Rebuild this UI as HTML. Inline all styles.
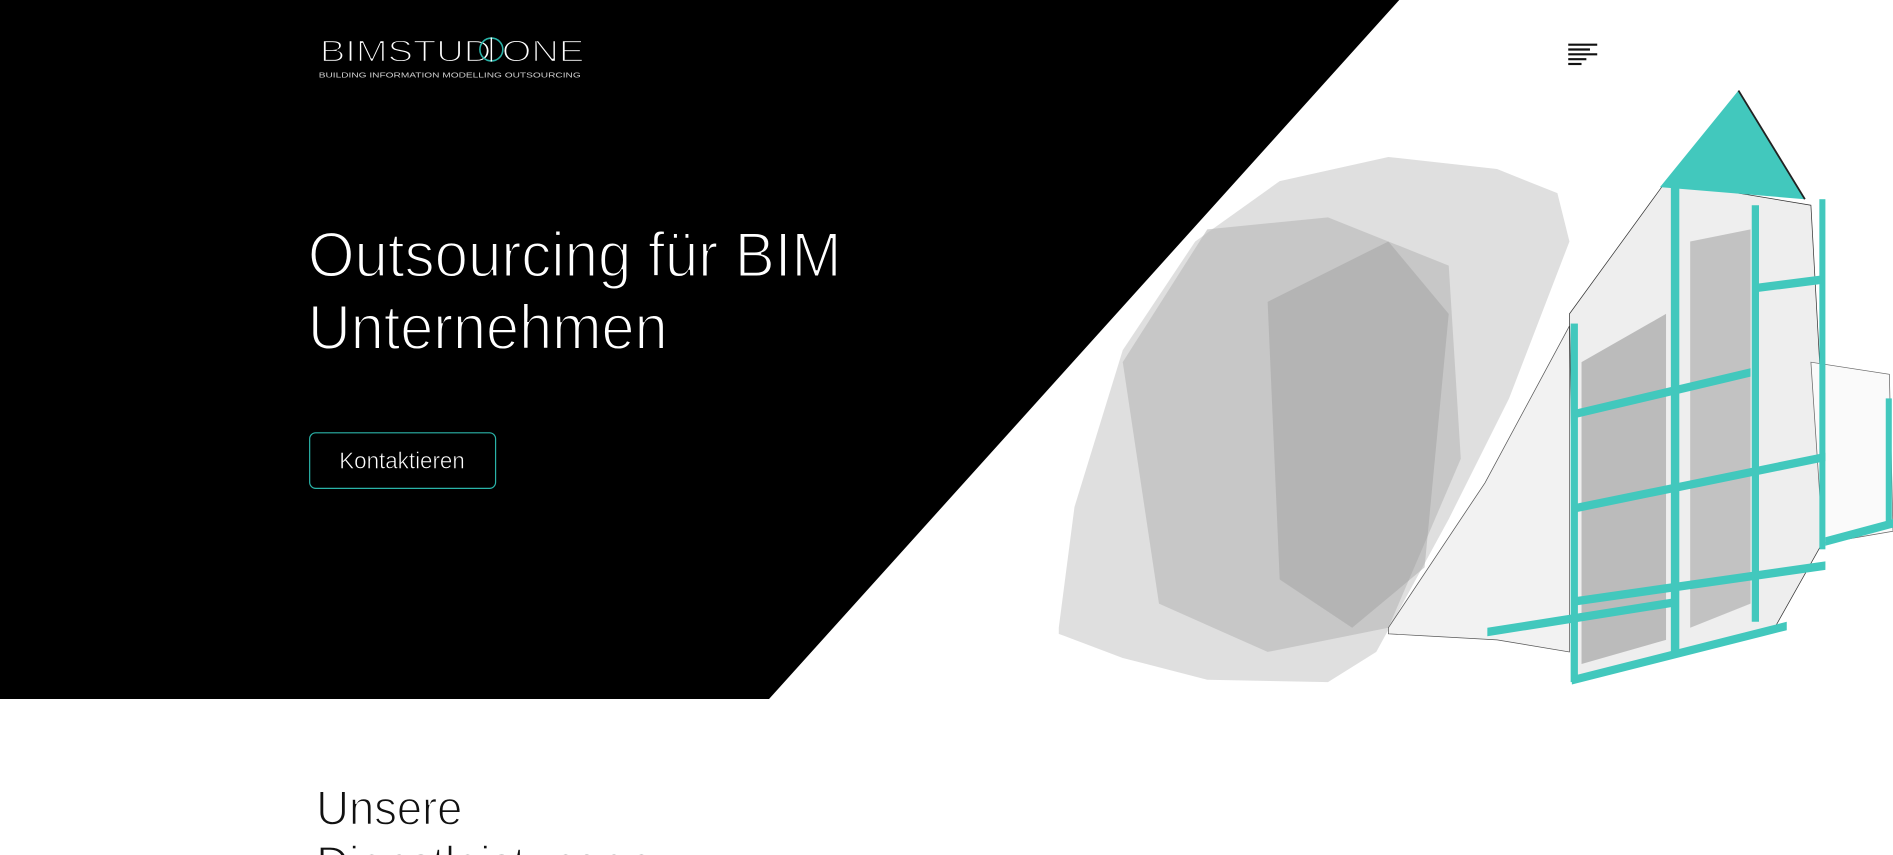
<!DOCTYPE html>
<html><head><meta charset="utf-8"><style>
html,body{margin:0;padding:0;background:#fff;overflow:hidden}
svg{display:block}
</style></head><body>
<svg width="1893" height="855" viewBox="0 0 1568 708.2" xmlns="http://www.w3.org/2000/svg" font-family="'Liberation Sans', sans-serif">
<polygon points="0,0 1159,0 637,579 0,579" fill="#000"/>
<g>
<text x="265" y="51" fill="#fff" stroke="#000" stroke-width="1.2" font-size="25" textLength="219" lengthAdjust="spacingAndGlyphs">BIMSTUD  ONE</text>
<circle cx="407" cy="41" r="9.5" fill="none" stroke="#2ab3a8" stroke-width="1.3"/>
<line x1="407" y1="31" x2="407" y2="51" stroke="#fff" stroke-width="1.2"/>
<text x="264" y="64" fill="#ccc" font-size="6" textLength="217" lengthAdjust="spacingAndGlyphs">BUILDING INFORMATION MODELLING OUTSOURCING</text>
</g>
<text x="255" y="229" fill="#fff" stroke="#000" stroke-width="1.6" font-size="52" textLength="442" lengthAdjust="spacingAndGlyphs">Outsourcing für BIM</text>
<text x="255" y="289" fill="#fff" stroke="#000" stroke-width="1.6" font-size="52" textLength="298" lengthAdjust="spacingAndGlyphs">Unternehmen</text>
<g>
<rect x="256.5" y="358.5" width="154" height="46" rx="5" fill="none" stroke="#2ab3a8" stroke-width="1"/>
<text x="281" y="388" fill="#fff" stroke="#000" stroke-width="0.5" font-size="19" textLength="104" lengthAdjust="spacingAndGlyphs">Kontaktieren</text>
</g>
<g stroke="#111" stroke-width="1.8">
<line x1="1299" y1="37" x2="1323" y2="37"/><line x1="1299" y1="41" x2="1317" y2="41"/><line x1="1299" y1="45" x2="1323" y2="45"/><line x1="1299" y1="49" x2="1314" y2="49"/><line x1="1299" y1="53" x2="1310" y2="53"/>
</g>
<g>
<polygon points="877,520 890,420 930,290 990,200 1060,150 1150,130 1240,140 1290,160 1300,200 1250,330 1200,430 1140,540 1100,565 1000,563 930,545 877,525" fill="#dcdcdc" opacity="0.9"/>
<polygon points="930,300 1000,190 1100,180 1200,220 1210,380 1150,520 1050,540 960,500" fill="#b8b8b8" opacity="0.6"/>
<polygon points="1050,250 1150,200 1200,260 1180,470 1120,520 1060,480" fill="#999" opacity="0.4"/>
<polygon points="1150,520 1230,400 1300,270 1300,540 1240,530 1150,525" fill="#f2f2f2" stroke="#555" stroke-width="0.6"/>
<polygon points="1300,260 1380,150 1500,170 1515,440 1470,520 1305,565" fill="#eee" stroke="#333" stroke-width="0.6"/>
<polygon points="1310,300 1380,260 1380,530 1310,550" fill="#9a9a9a" opacity="0.6"/>
<polygon points="1400,200 1450,190 1450,500 1400,520" fill="#a5a5a5" opacity="0.6"/>
<polygon points="1500,300 1565,310 1568,440 1510,450" fill="#fafafa" stroke="#666" stroke-width="0.6"/>
<polygon points="1440,75 1375,155 1495,165" fill="#42c8bd"/>
<line x1="1440" y1="75" x2="1495" y2="165" stroke="#222" stroke-width="1.5"/>
<g fill="#42c8bd">
<rect x="1301" y="268" width="6" height="297"/>
<rect x="1384" y="150" width="7" height="390"/>
<rect x="1451" y="170" width="6" height="345"/>
<rect x="1507" y="165" width="5" height="290"/>
<polygon points="1302,340 1450,305 1450,312 1302,347"/>
<polygon points="1302,418 1512,375 1512,382 1302,425"/>
<polygon points="1302,495 1512,465 1512,472 1302,502"/>
<polygon points="1232,520 1390,495 1390,502 1232,527"/>
<polygon points="1302,560 1480,515 1480,522 1302,567"/>
<polygon points="1455,235 1510,228 1510,235 1455,242"/>
<polygon points="1512,445 1568,430 1568,437 1512,452"/>
<rect x="1562" y="330" width="5" height="105"/>
</g>
</g>
<text x="262" y="683" fill="#111" stroke="#fff" stroke-width="1.2" font-size="40" textLength="121" lengthAdjust="spacingAndGlyphs">Unsere</text>
<text x="262" y="729" fill="#111" stroke="#fff" stroke-width="1.2" font-size="40" textLength="278" lengthAdjust="spacingAndGlyphs">Dienstleistungen</text>
</svg>
</body></html>
